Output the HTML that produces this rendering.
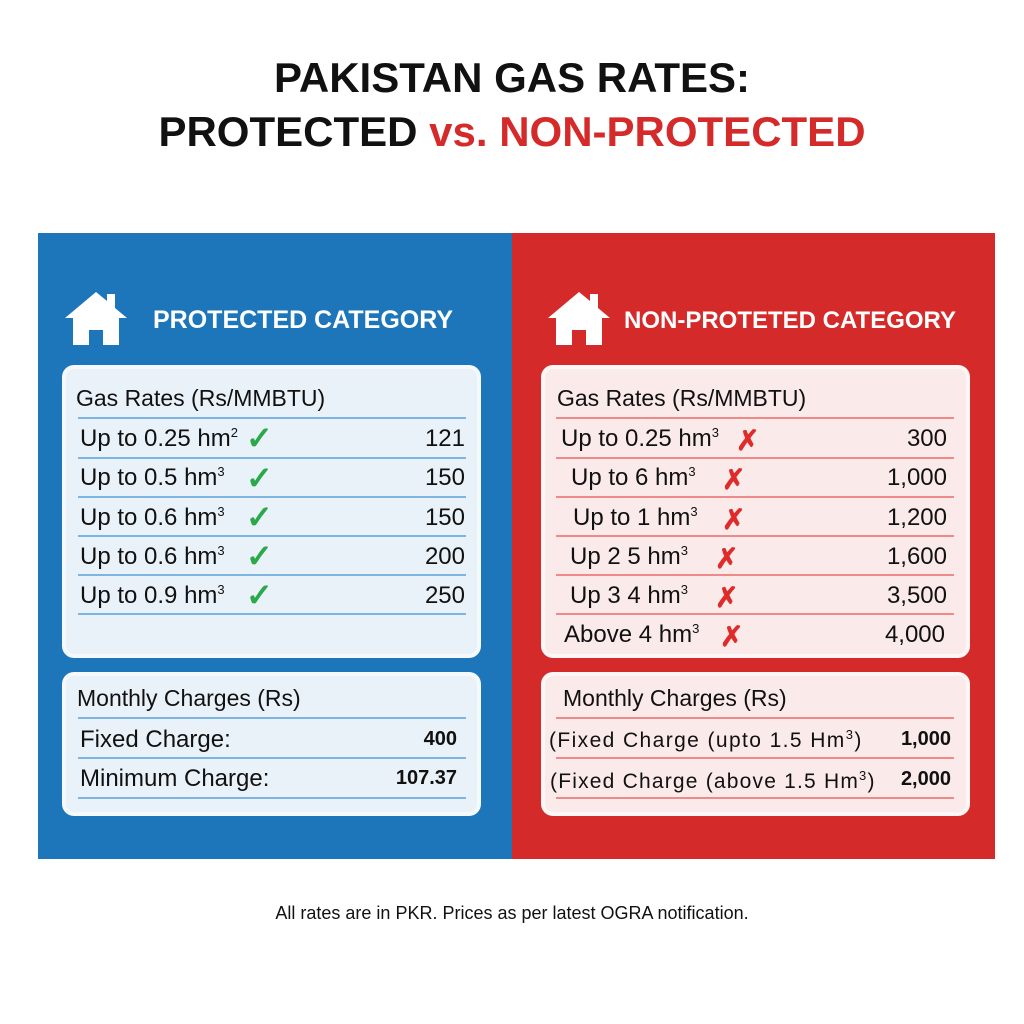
<!DOCTYPE html>
<html><head><meta charset="utf-8"><style>
*{margin:0;padding:0;box-sizing:border-box}
body{width:1024px;height:1024px;background:#fff;position:relative;font-family:"Liberation Sans",sans-serif;overflow:hidden}
.t{position:absolute;white-space:nowrap}
.title{left:0;width:1024px;text-align:center;font-weight:bold;font-size:42px;color:#111}
.panel{position:absolute;top:233px;height:626px}
.box{position:absolute;border-radius:12px;border:4px solid rgba(255,255,255,0.55)}
.bl .box{background:#eaf2f9}
.rd .box{background:#fbeaea}
.ln{position:absolute;height:2px}
.bl .ln{background:#7db4e0}
.rd .ln{background:#ef8a8a}
.r{font-size:24px;color:#111}
.h{font-size:23px;color:#111}
.num{text-align:right}
.ck{color:#2aa84a;font-weight:bold;font-size:32px}
.x{color:#e02b2b;font-weight:bold;font-size:28px}
sup{font-size:13px}
</style></head><body>
<div class="t title" style="top:54px">PAKISTAN GAS RATES:</div>
<div class="t title" style="top:108px">PROTECTED <span style="color:#d42a2a">vs. NON-PROTECTED</span></div>

<div class="panel bl" style="left:38px;width:474px;background:#1c76b9">
<svg style="position:absolute;left:25px;top:57px" width="66" height="56" viewBox="0 0 66 56"><polygon points="33,2 2,28 10,28 10,55 26,55 26,40 40,40 40,55 56,55 56,28 64,28 52,18 52,4 44,4 44,11" fill="#fff"/></svg>
<div class="t" style="left:115px;top:73px;font-size:25px;font-weight:bold;color:#fff">PROTECTED CATEGORY</div>
<div class="box" style="left:24px;top:132px;width:419px;height:293px"></div>
<div class="box" style="left:24px;top:439px;width:419px;height:144px"></div>
</div>
<div class="panel rd" style="left:512px;width:483px;background:#d42a2a">
<svg style="position:absolute;left:34px;top:57px" width="66" height="56" viewBox="0 0 66 56"><polygon points="33,2 2,28 10,28 10,55 26,55 26,40 40,40 40,55 56,55 56,28 64,28 52,18 52,4 44,4 44,11" fill="#fff"/></svg>
<div class="t" style="left:112px;top:74px;font-size:24px;font-weight:bold;color:#fff">NON-PROTETED CATEGORY</div>
<div class="box" style="left:29px;top:132px;width:429px;height:293px"></div>
<div class="box" style="left:29px;top:439px;width:429px;height:144px"></div>
</div>

<div class="bl">
<div class="ln" style="left:78px;width:388px;top:417px"></div>
<div class="ln" style="left:78px;width:388px;top:457px"></div>
<div class="ln" style="left:78px;width:388px;top:496px"></div>
<div class="ln" style="left:78px;width:388px;top:535px"></div>
<div class="ln" style="left:78px;width:388px;top:574px"></div>
<div class="ln" style="left:78px;width:388px;top:613px"></div>
<div class="ln" style="left:78px;width:388px;top:717px"></div>
<div class="ln" style="left:78px;width:388px;top:757px"></div>
<div class="ln" style="left:78px;width:388px;top:797px"></div>
</div>
<div class="rd">
<div class="ln" style="left:556px;width:398px;top:417px"></div>
<div class="ln" style="left:556px;width:398px;top:457px"></div>
<div class="ln" style="left:556px;width:398px;top:496px"></div>
<div class="ln" style="left:556px;width:398px;top:535px"></div>
<div class="ln" style="left:556px;width:398px;top:574px"></div>
<div class="ln" style="left:556px;width:398px;top:613px"></div>
<div class="ln" style="left:556px;width:398px;top:717px"></div>
<div class="ln" style="left:556px;width:398px;top:757px"></div>
<div class="ln" style="left:556px;width:398px;top:797px"></div>
</div>

<div class="t h" style="left:76px;top:385px">Gas Rates (Rs/MMBTU)</div>
<div class="t r" style="left:80px;top:425px">Up to 0.25 hm<sup>2</sup></div><div class="t ck" style="left:246px;top:419px">✓</div><div class="t r num" style="left:380px;width:85px;top:425px">121</div>
<div class="t r" style="left:80px;top:464px">Up to 0.5 hm<sup>3</sup></div><div class="t ck" style="left:246px;top:459px">✓</div><div class="t r num" style="left:380px;width:85px;top:464px">150</div>
<div class="t r" style="left:80px;top:504px">Up to 0.6 hm<sup>3</sup></div><div class="t ck" style="left:246px;top:498px">✓</div><div class="t r num" style="left:380px;width:85px;top:504px">150</div>
<div class="t r" style="left:80px;top:543px">Up to 0.6 hm<sup>3</sup></div><div class="t ck" style="left:246px;top:537px">✓</div><div class="t r num" style="left:380px;width:85px;top:543px">200</div>
<div class="t r" style="left:80px;top:582px">Up to 0.9 hm<sup>3</sup></div><div class="t ck" style="left:246px;top:576px">✓</div><div class="t r num" style="left:380px;width:85px;top:582px">250</div>
<div class="t h" style="left:77px;top:685px">Monthly Charges (Rs)</div>
<div class="t r" style="left:80px;top:726px">Fixed Charge:</div><div class="t r num" style="left:360px;width:97px;top:728px;font-weight:bold;font-size:20px">400</div>
<div class="t r" style="left:80px;top:765px">Minimum Charge:</div><div class="t r num" style="left:360px;width:97px;top:767px;font-weight:bold;font-size:20px">107.37</div>

<div class="t h" style="left:557px;top:385px">Gas Rates (Rs/MMBTU)</div>
<div class="t r" style="left:561px;top:425px">Up to 0.25 hm<sup>3</sup></div><div class="t x" style="left:736px;top:424px">✗</div><div class="t r num" style="left:860px;width:87px;top:425px">300</div>
<div class="t r" style="left:571px;top:464px">Up to 6 hm<sup>3</sup></div><div class="t x" style="left:722px;top:463px">✗</div><div class="t r num" style="left:860px;width:87px;top:464px">1,000</div>
<div class="t r" style="left:573px;top:504px">Up to 1 hm<sup>3</sup></div><div class="t x" style="left:722px;top:503px">✗</div><div class="t r num" style="left:860px;width:87px;top:504px">1,200</div>
<div class="t r" style="left:570px;top:543px">Up 2 5 hm<sup>3</sup></div><div class="t x" style="left:715px;top:542px">✗</div><div class="t r num" style="left:860px;width:87px;top:543px">1,600</div>
<div class="t r" style="left:570px;top:582px">Up 3 4 hm<sup>3</sup></div><div class="t x" style="left:715px;top:581px">✗</div><div class="t r num" style="left:860px;width:87px;top:582px">3,500</div>
<div class="t r" style="left:564px;top:621px">Above 4 hm<sup>3</sup></div><div class="t x" style="left:720px;top:620px">✗</div><div class="t r num" style="left:860px;width:85px;top:621px">4,000</div>
<div class="t h" style="left:563px;top:685px">Monthly Charges (Rs)</div>
<div class="t r" style="left:549px;top:727px;font-size:21px;letter-spacing:1.4px">(Fixed Charge (upto 1.5 Hm<sup>3</sup>)</div><div class="t r num" style="left:860px;width:91px;top:728px;font-weight:bold;font-size:20px">1,000</div>
<div class="t r" style="left:550px;top:768px;font-size:21px;letter-spacing:1.2px">(Fixed Charge (above 1.5 Hm<sup>3</sup>)</div><div class="t r num" style="left:860px;width:91px;top:768px;font-weight:bold;font-size:20px">2,000</div>

<div class="t" style="left:0;width:1024px;text-align:center;top:903px;font-size:18px;color:#111">All rates are in PKR. Prices as per latest OGRA notification.</div>
</body></html>
